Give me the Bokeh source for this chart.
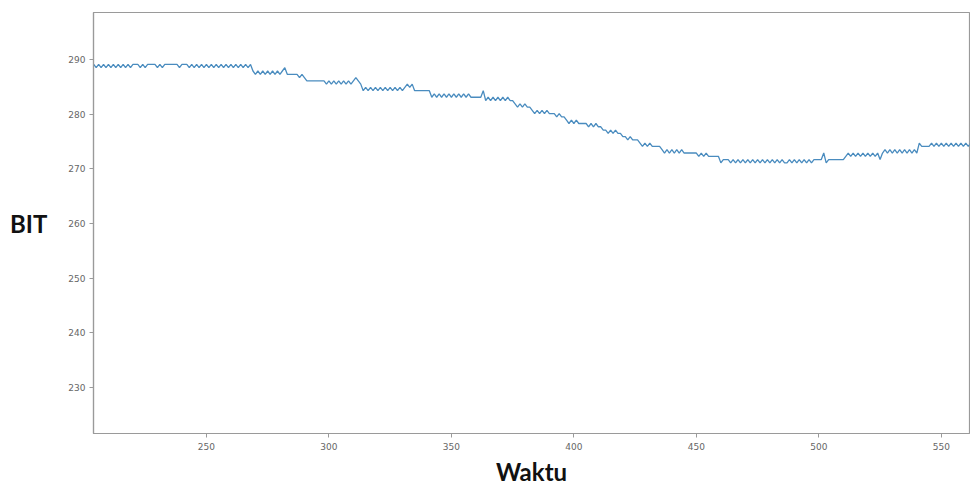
from bokeh.plotting import figure
from bokeh.models import Range1d, FixedTicker
from bokeh.embed import file_html
from bokeh.resources import INLINE

# Data
waktu = list(range(204, 563))
bit = [
    289.1, 288.5, 289.1, 288.5, 289.1, 288.5, 289.1, 288.5, 289.1, 288.5,
    289.1, 288.5, 289.1, 288.5, 289.1, 288.5, 289.1, 289.1, 289.1, 288.5,
    289.1, 288.5, 289.1, 289.1, 289.1, 289.1, 288.5, 289.1, 288.5, 289.1,
    289.1, 289.1, 289.1, 289.1, 289.1, 288.5, 289.1, 289.1, 289.1, 288.5,
    289.1, 288.5, 289.1, 288.5, 289.1, 288.5, 289.1, 288.5, 289.1, 288.5,
    289.1, 288.5, 289.1, 288.5, 289.1, 288.5, 289.1, 288.5, 289.1, 288.5,
    289.1, 288.5, 289.1, 288.5, 289.1, 287.9, 287.3, 287.9, 287.3, 287.9,
    287.3, 287.9, 287.3, 287.9, 287.3, 287.9, 287.3, 287.9, 288.5, 287.3,
    287.3, 287.3, 287.3, 287.3, 286.7, 287.3, 286.7, 286.1, 286.1, 286.1,
    286.1, 286.1, 286.1, 286.1, 286.1, 285.5, 286.1, 285.5, 286.1, 285.5,
    286.1, 285.5, 286.1, 285.5, 286.1, 285.5, 286.1, 286.7, 286.1, 285.5,
    284.3, 284.9, 284.3, 284.9, 284.3, 284.9, 284.3, 284.9, 284.3, 284.9,
    284.3, 284.9, 284.3, 284.9, 284.3, 284.9, 284.3, 284.9, 285.5, 284.9,
    285.5, 284.3, 284.3, 284.3, 284.3, 284.3, 284.3, 284.3, 283.1, 283.7,
    283.1, 283.7, 283.1, 283.7, 283.1, 283.7, 283.1, 283.7, 283.1, 283.7,
    283.1, 283.7, 283.1, 283.7, 283.1, 283.1, 283.1, 283.1, 283.1, 284.3,
    282.5, 283.1, 282.5, 283.1, 282.5, 283.1, 282.5, 283.1, 282.5, 283.1,
    282.5, 282.5, 281.9, 281.3, 281.9, 281.3, 281.9, 281.3, 281.3, 280.7,
    280.1, 280.7, 280.1, 280.7, 280.1, 280.7, 280.1, 280.1, 280.1, 279.5,
    280.1, 279.5, 279.5, 278.9, 278.3, 278.9, 278.3, 278.9, 278.3, 278.3,
    278.3, 278.3, 277.7, 278.3, 277.7, 278.3, 277.7, 277.7, 277.1, 277.1,
    276.5, 277.1, 276.5, 277.1, 276.5, 276.5, 275.9, 275.9, 275.3, 275.9,
    275.3, 275.3, 275.3, 274.7, 274.1, 274.7, 274.1, 274.7, 274.1, 274.1,
    274.1, 274.1, 273.5, 272.9, 273.5, 272.9, 273.5, 272.9, 273.5, 272.9,
    273.5, 272.9, 272.9, 272.9, 272.9, 272.9, 272.9, 272.3, 272.9, 272.3,
    272.9, 272.3, 272.3, 272.3, 272.3, 272.3, 271.1, 271.7, 271.7, 271.7,
    271.1, 271.7, 271.1, 271.7, 271.1, 271.7, 271.1, 271.7, 271.1, 271.7,
    271.1, 271.7, 271.1, 271.7, 271.1, 271.7, 271.1, 271.7, 271.1, 271.7,
    271.1, 271.7, 271.1, 271.1, 271.7, 271.1, 271.7, 271.1, 271.7, 271.1,
    271.7, 271.1, 271.7, 271.1, 271.7, 271.7, 271.7, 271.7, 272.9, 271.1,
    271.7, 271.7, 271.7, 271.7, 271.7, 271.7, 271.7, 272.3, 272.9, 272.3,
    272.9, 272.3, 272.9, 272.3, 272.9, 272.3, 272.9, 272.3, 272.9, 272.3,
    272.9, 271.7, 272.9, 273.5, 272.9, 273.5, 272.9, 273.5, 272.9, 273.5,
    272.9, 273.5, 272.9, 273.5, 272.9, 273.5, 272.9, 274.7, 274.1, 274.1,
    274.1, 274.1, 274.7, 274.1, 274.7, 274.1, 274.7, 274.1, 274.7, 274.1,
    274.7, 274.1, 274.7, 274.1, 274.7, 274.1, 274.7, 274.1, 274.7,
]
x_ticks = [250, 300, 350, 400, 450, 500, 550]
y_ticks = [230, 240, 250, 260, 270, 280, 290]
x_title = "Waktu"
y_title = "BIT"

p = figure(width=970, height=488, output_backend="svg", toolbar_location=None,
           title=None,
           x_range=Range1d(203.9, 561.5), y_range=Range1d(221.6, 298.6),
           min_border_left=93, min_border_right=1, min_border_top=12,
           min_border_bottom=55)
p.line(waktu, bit, line_color="#4a8cbf", line_width=1.3)

p.xgrid.visible = False
p.ygrid.visible = False
p.outline_line_color = "#9a9a9a"
p.outline_line_width = 1.2
p.background_fill_color = "white"
p.border_fill_color = "white"

for ax, ticks in ((p.xaxis, x_ticks), (p.yaxis, y_ticks)):
    ax.ticker = FixedTicker(ticks=ticks)
    ax.axis_line_color = "#9a9a9a"
    ax.axis_line_width = 1.2
    ax.major_tick_line_color = "#9a9a9a"
    ax.major_tick_in = 0
    ax.major_tick_out = 4
    ax.minor_tick_line_color = None
    ax.major_label_text_color = "#666666"
    ax.major_label_text_font = "DejaVu Sans"
    ax.major_label_text_font_size = "9px"
    ax.axis_label_text_font = "Lato"
    ax.axis_label_text_font_style = "bold"
    ax.axis_label_text_font_size = "24px"
    ax.axis_label_text_color = "#111111"

p.xaxis.major_label_standoff = 5
p.yaxis.major_label_standoff = 4
p.xaxis.axis_label = x_title
p.xaxis.axis_label_standoff = 4
p.yaxis.axis_label = y_title
p.yaxis.axis_label_orientation = "horizontal"
p.yaxis.axis_label_standoff = 18
p.yaxis.axis_label_text_baseline = "top"

open("out.html", "w").write(file_html(p, INLINE))
